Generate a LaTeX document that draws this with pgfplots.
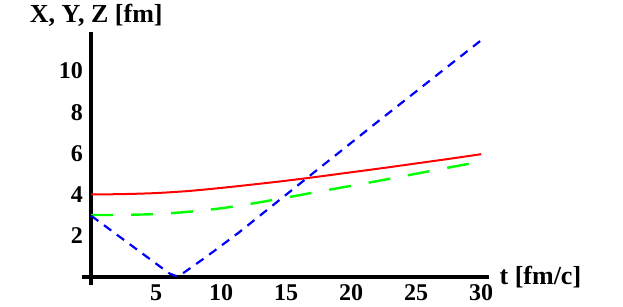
\documentclass[border=0pt]{standalone}
\usepackage{pgfplots}
\pgfplotsset{compat=1.18}
\usepackage{fontspec}
\setmainfont{Liberation Serif}
\newcommand{\tickfont}{\fontsize{24}{27}\selectfont\bfseries}
\newcommand{\lblfont}{\fontsize{26}{29}\selectfont\bfseries}
\begin{document}
\begin{tikzpicture}
\path[use as bounding box] (0,0) rectangle (623pt,307pt);
\begin{axis}[
  at={(82pt,22pt)}, anchor=south west,
  scale only axis, width=407pt, height=253pt,
  xmin=-0.7, xmax=30.6, ymin=-0.4, ymax=11.9,
  axis x line=middle, axis y line=middle,
  axis line style={line width=3.5pt, -},
  xtick={5,10,...,30}, ytick={2,4,...,10},
  major tick length=4pt,
  tick style={line width=0.4pt, black!50},
  ticklabel style={font=\tickfont, inner sep=0pt},
  /pgf/number format/assume math mode=true,
  xticklabel style={anchor=north, yshift=-6pt},
  yticklabel style={anchor=east, xshift=-6pt},
  xlabel={t [fm/c]}, ylabel={X, Y, Z [fm]},
  xlabel style={font=\lblfont, inner sep=0pt, anchor=base west,
    at={(axis description cs:1.0256,0.0008)}},
  ylabel style={font=\lblfont, inner sep=0pt, anchor=base, rotate=0,
    at={(axis description cs:0.0351,1.039)}},
  clip=false,
]
% X(t)
\addplot[red, line width=2pt, smooth] coordinates {
  (0,4.00) (2.5,4.02) (5,4.07) (7.5,4.17) (10,4.32) (12.5,4.49) (15,4.67)
  (17.5,4.87) (20,5.08) (22.5,5.29) (25,5.51) (27.5,5.73) (30,5.96)
};
% Y(t)
\addplot[green, line width=2.4pt, smooth, dash pattern=on 22pt off 18pt] coordinates {
  (0,3.00) (2.5,3.01) (5,3.05) (7.5,3.16) (10,3.33) (12.5,3.57) (15,3.85)
  (17.5,4.14) (20,4.42) (22.5,4.71) (25,5.01) (27.5,5.31) (30,5.60)
};
% Z(t)
\addplot[blue, line width=2.2pt, dash pattern=on 9pt off 7pt] coordinates {
  (0,2.97) (3,1.57) (6.0,0.17) (6.5,0.04) (7.0,0.14) (8.9,0.99)
  (11.3,2.12) (16.6,4.80) (22.2,7.62) (30,11.50)
};
\end{axis}
\end{tikzpicture}
\end{document}
